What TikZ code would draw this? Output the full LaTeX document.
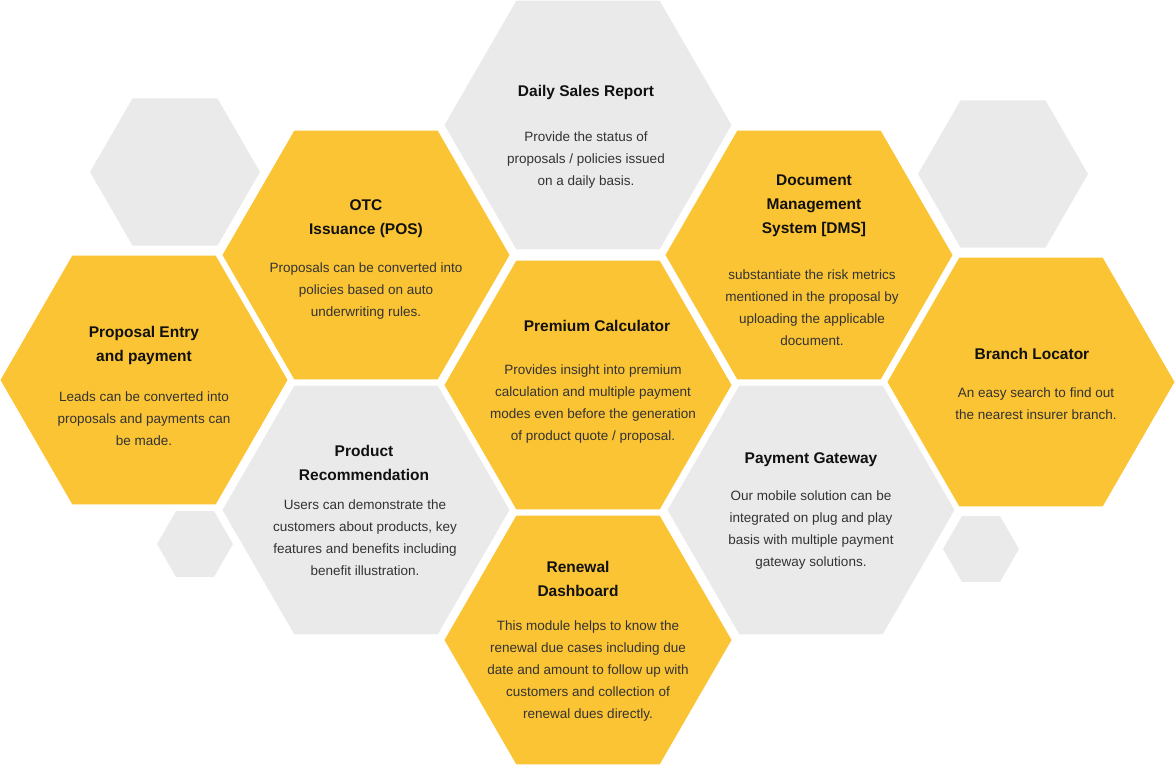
\documentclass[tikz,border=0pt]{standalone}
\usepackage{fontspec}
\setmainfont{Liberation Sans}
\definecolor{hy}{HTML}{FBC434}
\definecolor{hg}{HTML}{EAEAEA}
\definecolor{tt}{HTML}{111111}
\definecolor{tb}{HTML}{333333}
\newcommand\hexa[4]{\fill[#4] (#1,#2) +(0:#3pt) -- +(60:#3pt) -- +(120:#3pt) -- +(180:#3pt) -- +(240:#3pt) -- +(300:#3pt) -- cycle;}
\tikzset{
 ttl/.style={align=center,text=tt,font=\fontsize{15.5}{24}\selectfont\bfseries,inner sep=0pt},
 bdy/.style={align=center,text=tb,font=\fontsize{13.5}{22}\selectfont,inner sep=0pt}
}
\begin{document}
\begin{tikzpicture}[x=1pt,y=-1pt]
\useasboundingbox (0,0) rectangle (1176,766);
\hexa{175}{172}{85}{hg}
\hexa{1003}{174}{85}{hg}
\hexa{195}{544}{38}{hg}
\hexa{981}{549}{38}{hg}
\hexa{588}{125}{143.5}{hg}
\hexa{366}{255}{143.5}{hy}
\hexa{809}{255}{143.5}{hy}
\hexa{588}{385}{143.5}{hy}
\hexa{144}{380}{143.5}{hy}
\hexa{1031}{382}{143.5}{hy}
\hexa{366}{510}{143.5}{hg}
\hexa{811}{510}{143.5}{hg}
\hexa{588}{640}{143.5}{hy}

\node[ttl] (t1) at (586,92) {Daily Sales Report};
\node[bdy] (b1) at (586,160) {Provide the status of\\proposals / policies issued\\on a daily basis.};
\node[ttl] (t2) at (366,219) {OTC\\Issuance (POS)};
\node[bdy] (b2) at (366,291) {Proposals can be converted into\\policies based on auto\\underwriting rules.};
\node[ttl] (t3) at (814,206) {Document\\Management\\System [DMS]};
\node[bdy] (b3) at (812,308) {substantiate the risk metrics\\mentioned in the proposal by\\uploading the applicable\\document.};
\node[ttl] (t4) at (144,345) {Proposal Entry\\and payment};
\node[bdy] (b4) at (144,419) {Leads can be converted into\\proposals and payments can\\be made.};
\node[ttl] (t5) at (597,326) {Premium Calculator};
\node[bdy] (b5) at (593,404) {Provides insight into premium\\calculation and multiple payment\\modes even before the generation\\of product quote / proposal.};
\node[ttl] (t6) at (1032,354) {Branch Locator};
\node[bdy] (b6) at (1036,404) {An easy search to find out\\the nearest insurer branch.};
\node[ttl] (t7) at (364,463) {Product\\Recommendation};
\node[bdy] (b7) at (365,538) {Users can demonstrate the\\customers about products, key\\features and benefits including\\benefit illustration.};
\node[ttl] (t8) at (811,460) {Payment Gateway};
\node[bdy] (b8) at (811,530) {Our mobile solution can be\\integrated on plug and play\\basis with multiple payment\\gateway solutions.};
\node[ttl] (t9) at (578,579) {Renewal\\Dashboard};
\node[bdy] (b9) at (588,671) {This module helps to know the\\renewal due cases including due\\date and amount to follow up with\\customers and collection of\\renewal dues directly.};
\end{tikzpicture}
\end{document}
